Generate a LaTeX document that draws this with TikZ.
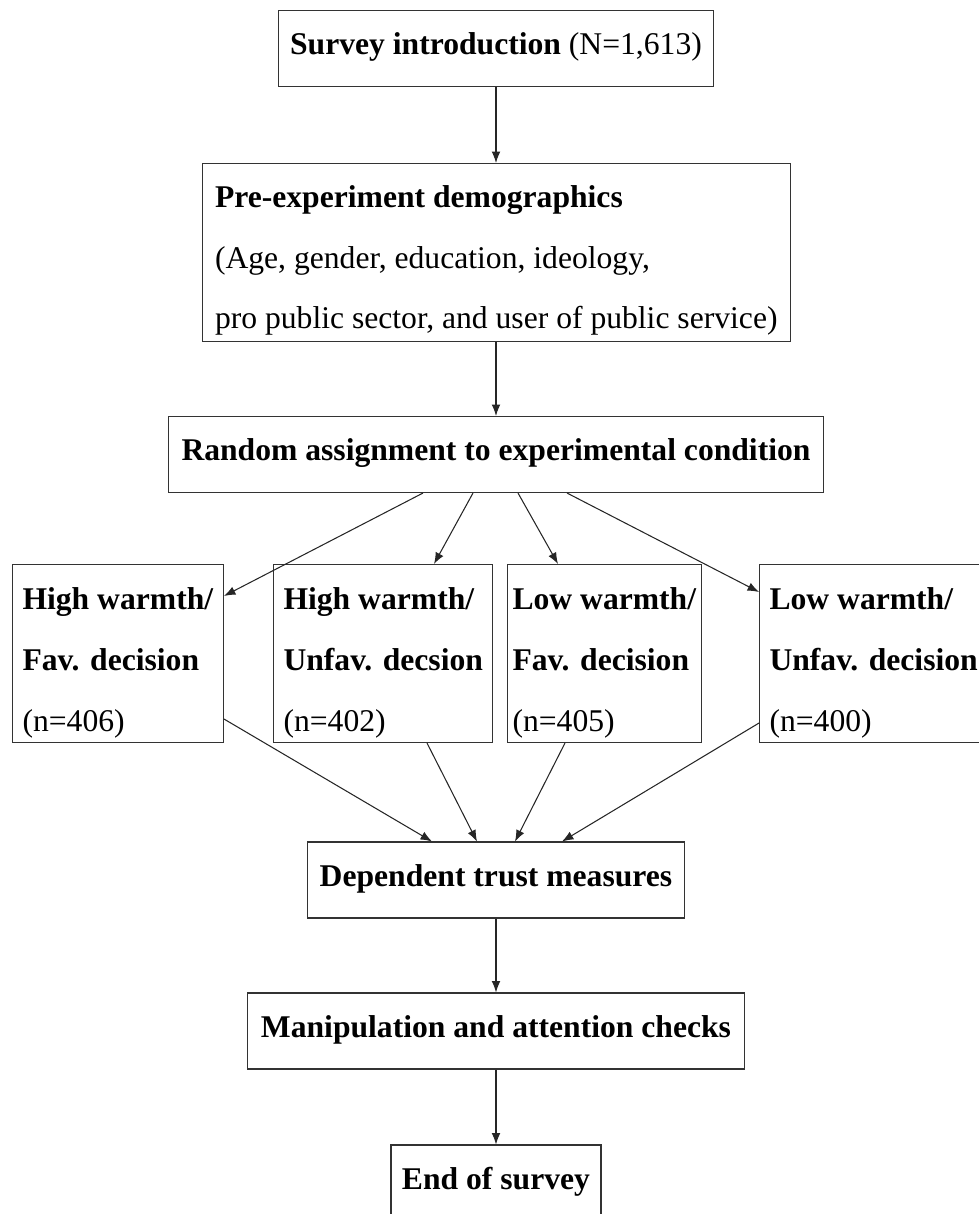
\documentclass[tikz,border=0pt]{standalone}
\usepackage{fontspec}
\setmainfont{Liberation Serif}
\usetikzlibrary{arrows.meta,calc}

\begin{document}
\begin{tikzpicture}[
x = 0.02cm,
y = -0.02cm,
font=\fontsize{18pt}{34.7pt}\selectfont,
stage/.style={
  draw=black!80,
  line width=0.6pt,
  inner sep=0pt,
  minimum height=1.52cm,
  text height=0.44cm,
  text depth=0.2cm,
  font=\fontsize{18pt}{34.7pt}\selectfont\bfseries
  },
group/.style={
  draw=black!80,
  line width=0.6pt,
  inner xsep=0.2cm,
  inner ysep=0pt,
  align=left,
  anchor=north west,
  text height=3.34cm,
  text depth=0.22cm
  },
flow/.style={
  draw=black!85,
  line width=0.6pt,
  ->
  },
>={Latex[length=6.5pt,width=5pt]}
]

\useasboundingbox (0,0) rectangle (979,1214);

\node[stage, minimum width=8.7cm] (intro) at (496,48.5)
  {Survey introduction \textmd{(N=1,613)}};
\node[group, inner xsep=0.25cm, text height=3.31cm, text depth=0.25cm] (pre) at (202,163)
  {\textbf{Pre-experiment demographics}\\
   (Age, gender, education, ideology,\\
   pro public sector, and user of public service)};
\node[stage, minimum width=13.12cm] (random) at (496,454.5)
  {Random assignment to experimental condition};

% the four conditions
\node[group] (hf) at (12,564)
  {\textbf{High warmth/}\\\textbf{Fav. decision}\\(n=406)};
\node[group] (hu) at (273,564)
  {\textbf{High warmth/}\\\textbf{Unfav. decsion}\\(n=402)};
\node[group, inner xsep=0.1cm] (lf) at (507,564)
  {\textbf{Low warmth/}\\\textbf{Fav. decision}\\(n=405)};
\node[group] (lu) at (759,564)
  {\textbf{Low warmth/}\\\textbf{Unfav. decision}\\(n=400)};

\node[stage, minimum width=7.54cm] (trust) at (496,880)
  {Dependent trust measures};
\node[stage, minimum width=9.94cm] (checks) at (496,1031)
  {Manipulation and attention checks};
\node[stage, minimum width=4.2cm] (end) at (496,1183)
  {End of survey};

\draw[flow] (intro) -- (pre.north -| intro);
\draw[flow] (pre.south -| random) -- (random);

\draw[flow] ($(random.south)+(-73,0)$) -- ($(hf.north east)+(0,32)$);
\draw[flow] ($(random.south)+(-23,0)$) -- ($(hu.north west)+(161,0)$);
\draw[flow] ($(random.south)+(22,0)$) -- ($(lf.north west)+(51,0)$);
\draw[flow] ($(random.south)+(71,0)$) -- ($(lu.north west)+(0,28)$);

\draw[flow] ($(hf.south east)+(0,-24)$) -- ($(trust.north)+(-64,0)$);
\draw[flow] ($(hu.south west)+(154,0)$) -- ($(trust.north)+(-19,0)$);
\draw[flow] ($(lf.south west)+(58,0)$) -- ($(trust.north)+(19,0)$);
\draw[flow] ($(lu.south west)+(0,-20)$) -- ($(trust.north)+(66,0)$);

\draw[flow] (trust) -- (checks);
\draw[flow] (checks) -- (end);

\end{tikzpicture}
\end{document}
